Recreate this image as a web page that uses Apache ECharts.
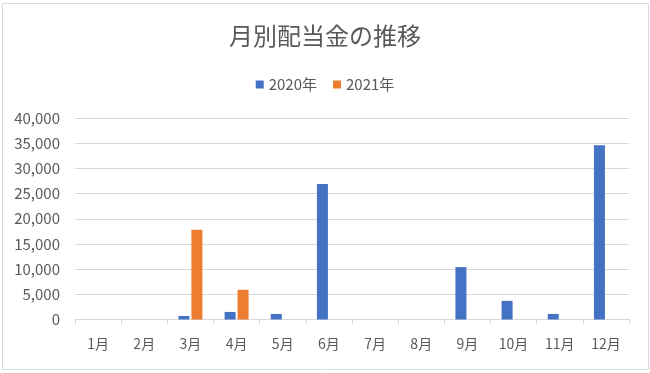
<!DOCTYPE html>
<html><head><meta charset="utf-8">
<script src="https://cdn.jsdelivr.net/npm/echarts@6/dist/echarts.min.js"></script>
<style>html,body{margin:0;padding:0;background:#fff}#c{width:650px;height:373px}</style>
</head><body><div id="c"></div>
<script>
const categories = ['1月','2月','3月','4月','5月','6月','7月','8月','9月','10月','11月','12月'];
const values2020 = [0, 0, 700, 1500, 1100, 26900, 0, 0, 10400, 3700, 1100, 34600];
const values2021 = [0, 0, 17800, 5900, 0, 0, 0, 0, 0, 0, 0, 0];
const seriesNames = ['2020年', '2021年'];
const yTicks = {min: 0, max: 40000, interval: 5000};

const font = '"Noto Sans CJK JP", "Noto Sans", sans-serif';
const chart = echarts.init(document.getElementById('c'), null, {renderer: 'canvas'});
chart.setOption({
  animation: false,
  backgroundColor: '#fff',
  title: {
    text: '月別配当金の推移', left: 'center', top: 19,
    textStyle: {fontFamily: font, fontSize: 24, fontWeight: 'normal', color: '#595959'}
  },
  legend: {
    top: 72, left: 'center', itemWidth: 8, itemHeight: 8, itemGap: 16,
    icon: 'rect',
    textStyle: {fontFamily: font, fontSize: 15, color: '#595959'},
    data: seriesNames
  },
  graphic: [{
    type: 'rect', shape: {x: 2.5, y: 3.5, width: 646, height: 366},
    style: {fill: 'none', stroke: '#d9d9d9', lineWidth: 1}, silent: true
  }],
  grid: {left: 75, right: 21, top: 118, bottom: 53.5},
  xAxis: {
    type: 'category', data: categories,
    axisLine: {lineStyle: {color: '#d9d9d9'}},
    axisTick: {show: true, length: 5, lineStyle: {color: '#d9d9d9'}},
    axisLabel: {fontFamily: font, fontSize: 14, color: '#595959', margin: 17}
  },
  yAxis: {
    type: 'value', min: yTicks.min, max: yTicks.max, interval: yTicks.interval,
    axisLine: {show: false}, axisTick: {show: false},
    splitLine: {lineStyle: {color: '#d9d9d9'}},
    axisLabel: {fontFamily: font, fontSize: 15, color: '#595959', margin: 15,
      formatter: v => v.toLocaleString('en-US')}
  },
  series: [
    {name: seriesNames[0], type: 'bar', data: values2020, barWidth: 11, barGap: '18%',
     itemStyle: {color: '#4472C4'}},
    {name: seriesNames[1], type: 'bar', data: values2021, barWidth: 11, barGap: '18%',
     itemStyle: {color: '#ED7D31'}}
  ]
});
</script></body></html>
